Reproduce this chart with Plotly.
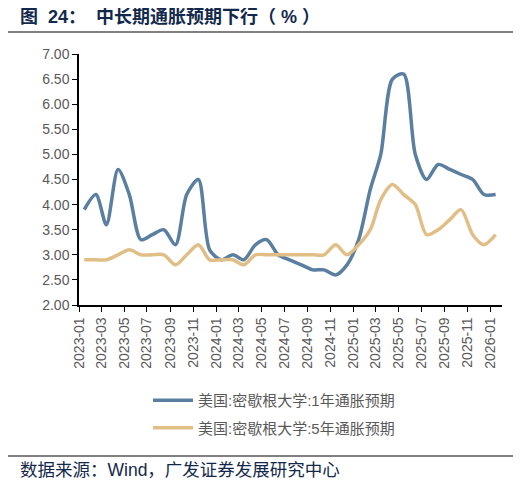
import pandas as pd
import plotly.graph_objects as go

# monthly data, 2023-01 .. 2026-01
months = pd.date_range("2023-01-01", periods=37, freq="MS")
infl_1y = [3.9, 4.2, 3.6, 4.7, 4.2, 3.3, 3.4, 3.5, 3.2, 4.2, 4.5, 3.1,
           2.9, 3.0, 2.9, 3.2, 3.3, 3.0, 2.9, 2.8, 2.7, 2.7, 2.6, 2.8,
           3.3, 4.3, 5.0, 6.5, 6.6, 5.0, 4.5, 4.8, 4.7, 4.6, 4.5, 4.2,
           4.2]
infl_5y = [2.9, 2.9, 2.9, 3.0, 3.1, 3.0, 3.0, 3.0, 2.8, 3.0, 3.2, 2.9,
           2.9, 2.9, 2.8, 3.0, 3.0, 3.0, 3.0, 3.0, 3.0, 3.0, 3.2, 3.0,
           3.2, 3.5, 4.1, 4.4, 4.2, 4.0, 3.4, 3.5, 3.7, 3.9, 3.4, 3.2,
           3.4]
name_1y = "美国:密歇根大学:1年通胀预期"
name_5y = "美国:密歇根大学:5年通胀预期"

# points sit in the middle of each month slot
x = months + pd.Timedelta(days=14)
tick_months = months[::2]

FONT = "Liberation Sans, Arial, Noto Sans CJK SC"
CJK = "Liberation Sans, Noto Sans CJK SC"

# page body has an 8px margin, so the figure is drawn 8px in from the corner
W, H = 513, 480
L, T, R, B = 71, 46, 19, 183
PW, PH = W - L - R, H - T - B


def px(xp):
    return (xp - L) / PW


def py(yp):
    return (H - B - yp) / PH


fig = go.Figure()
fig.add_trace(go.Scatter(
    x=x, y=infl_1y, mode="lines", name=name_1y, legendgroup="a",
    line=dict(color="#5A7FA0", width=3.5, shape="spline", smoothing=0.8)
))
fig.add_trace(go.Scatter(
    x=x, y=infl_5y, mode="lines", name=name_5y, legendgroup="b",
    line=dict(color="#E0BE86", width=3.5, shape="spline", smoothing=0.8)
))

fig.update_layout(
    width=W, height=H,
    margin=dict(l=L, r=R, t=T, b=B),
    paper_bgcolor="white", plot_bgcolor="white",
    font=dict(family=FONT, color="#595959", size=14),
    showlegend=True,
    legend=dict(
        orientation="v", x=px(140), xanchor="left", y=py(376), yanchor="top",
        font=dict(family=CJK, size=15, color="#595959"),
        tracegroupgap=5, traceorder="grouped", itemwidth=40,
    ),
    xaxis=dict(
        type="date", range=["2023-01-01", "2026-02-01"],
        tickvals=tick_months, tickformat="%Y-%m", tickangle=-90,
        showgrid=False, showline=True, linecolor="black", linewidth=1.5,
        ticks="outside", ticklen=5, tickcolor="black",
        tickfont=dict(size=14, color="#595959"),
    ),
    yaxis=dict(
        range=[2, 7], dtick=0.5, tickformat=".2f",
        showgrid=False, showline=True, linecolor="black", linewidth=1.5,
        ticks="outside", ticklen=5, tickcolor="black",
        tickfont=dict(size=14, color="#595959"),
    ),
    shapes=[
        dict(type="line", xref="paper", yref="paper",
             x0=px(-2), x1=px(508), y0=py(24), y1=py(24),
             line=dict(color="#808080", width=2)),
        dict(type="line", xref="paper", yref="paper",
             x0=px(-2), x1=px(508), y0=py(448), y1=py(448),
             line=dict(color="#808080", width=2)),
    ],
    annotations=[
        dict(text="<b>图  24：  中长期通胀预期下行（ % ）</b>", xref="paper", yref="paper",
             x=px(10), y=py(9), xanchor="left", yanchor="middle",
             showarrow=False, font=dict(family=CJK, size=18, color="#13294B")),
        dict(text="数据来源：Wind，广发证券发展研究中心", xref="paper", yref="paper",
             x=px(10), y=py(462), xanchor="left", yanchor="middle",
             showarrow=False, font=dict(family=CJK, size=17.5, color="#13294B")),
    ],
)

fig.write_html("out.html")
